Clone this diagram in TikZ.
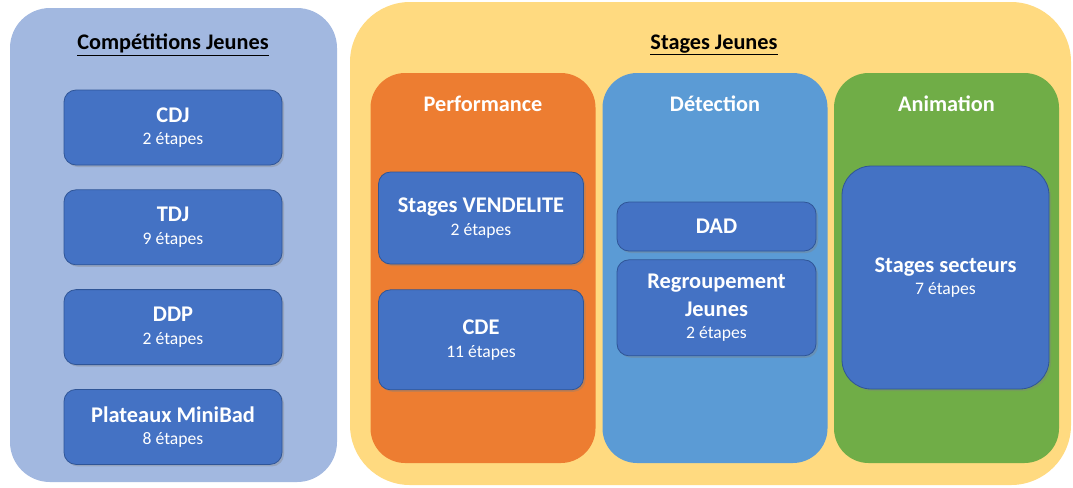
\documentclass[tikz,border=0pt]{standalone}
\usepackage{fontspec}
\setmainfont{Carlito}
\usetikzlibrary{positioning,shadows}

\definecolor{competbg}{HTML}{A2B8E0}
\definecolor{stagesbg}{HTML}{FFDA80}
\definecolor{perfbg}{HTML}{ED7D31}
\definecolor{detectbg}{HTML}{5B9BD5}
\definecolor{animbg}{HTML}{70AD47}
\definecolor{eventblue}{HTML}{4472C4}
\definecolor{eventline}{HTML}{2F5597}

\newcommand{\evtitle}[1]{{\fontsize{16.8}{17}\selectfont\bfseries #1}}

\begin{document}
\begin{tikzpicture}[x=0.75pt, y=-0.75pt, node distance=18pt,
    panel/.style={rectangle, inner sep=0pt},
    column/.style={rectangle, rounded corners=26pt, inner sep=0pt,
        minimum width=168.75pt, minimum height=292.5pt},
    paneltitle/.style={font=\fontsize{16.7}{20}\selectfont\bfseries, text=black},
    colhead/.style={font=\fontsize{16.7}{20}\selectfont\bfseries, text=white},
    event/.style={rectangle, rounded corners=9pt, draw=eventline, line width=0.6pt,
        fill=eventblue, text=white, align=center, inner sep=2pt,
        font=\fontsize{13.2}{17}\selectfont,
        drop shadow={shadow xshift=1.5pt, shadow yshift=-1.5pt, opacity=0.35}},
    ]
    \useasboundingbox (0,0) rectangle (1073,487);

    % Main panels
    \node[panel, fill=competbg, rounded corners=30pt, minimum width=245.25pt, minimum height=355.5pt] (compet) at (173.5,245) {};
    \node[panel, fill=stagesbg, rounded corners=45pt, minimum width=540.75pt, minimum height=362.25pt] (stages) at (710.5,243.5) {};
    \node[paneltitle] (competT) at (173,45) {\underline{Compétitions Jeunes}};
    \node[paneltitle] (stagesT) at (714,45) {\underline{Stages Jeunes}};

    % Columns of the stages
    \node[column, fill=perfbg] (perf) at (483,268) {};
    \node[column, fill=detectbg] (detect) at (715,268) {};
    \node[column, fill=animbg] (anim) at (946.5,268) {};
    \node[colhead] (perfT) at (483,104) {Performance};
    \node[colhead] (detectT) at (715,104) {Détection};
    \node[colhead] (animT) at (946.5,104) {Animation};

    % Competitions
    \node[event, minimum width=163.5pt, minimum height=56.25pt] (cdj) at (173,127.5) {\evtitle{CDJ}\\2 étapes};
    \node[event, minimum width=163.5pt, minimum height=56.25pt, below=of cdj] (tdj) {\evtitle{TDJ}\\9 étapes};
    \node[event, minimum width=163.5pt, minimum height=56.25pt, below=of tdj] (ddp) {\evtitle{DDP}\\2 étapes};
    \node[event, minimum width=163.5pt, minimum height=56.25pt, below=of ddp] (minibad) {\evtitle{Plateaux MiniBad}\\8 étapes};

    % Performance
    \node[event, minimum width=153.75pt, minimum height=69pt] (vendelite) at (481,218) {\evtitle{Stages VENDELITE}\\2 étapes};
    \node[event, minimum width=153.75pt, minimum height=75pt, below=18.75pt of vendelite] (cde) {\evtitle{CDE}\\11 étapes};

    % Detection
    \node[event, minimum width=149.25pt, minimum height=36.75pt] (dad) at (716.5,226.5) {\evtitle{DAD}};
    \node[event, minimum width=149.25pt, minimum height=72pt, below=6pt of dad] (regroup) {\evtitle{Regroupement}\\[4pt]\evtitle{Jeunes}\\2 étapes};

    % Animation
    \node[event, rounded corners=22pt, minimum width=155.25pt, minimum height=167.25pt] (secteurs) at (945.5,277.5) {\evtitle{Stages secteurs}\\7 étapes};
\end{tikzpicture}
\end{document}
